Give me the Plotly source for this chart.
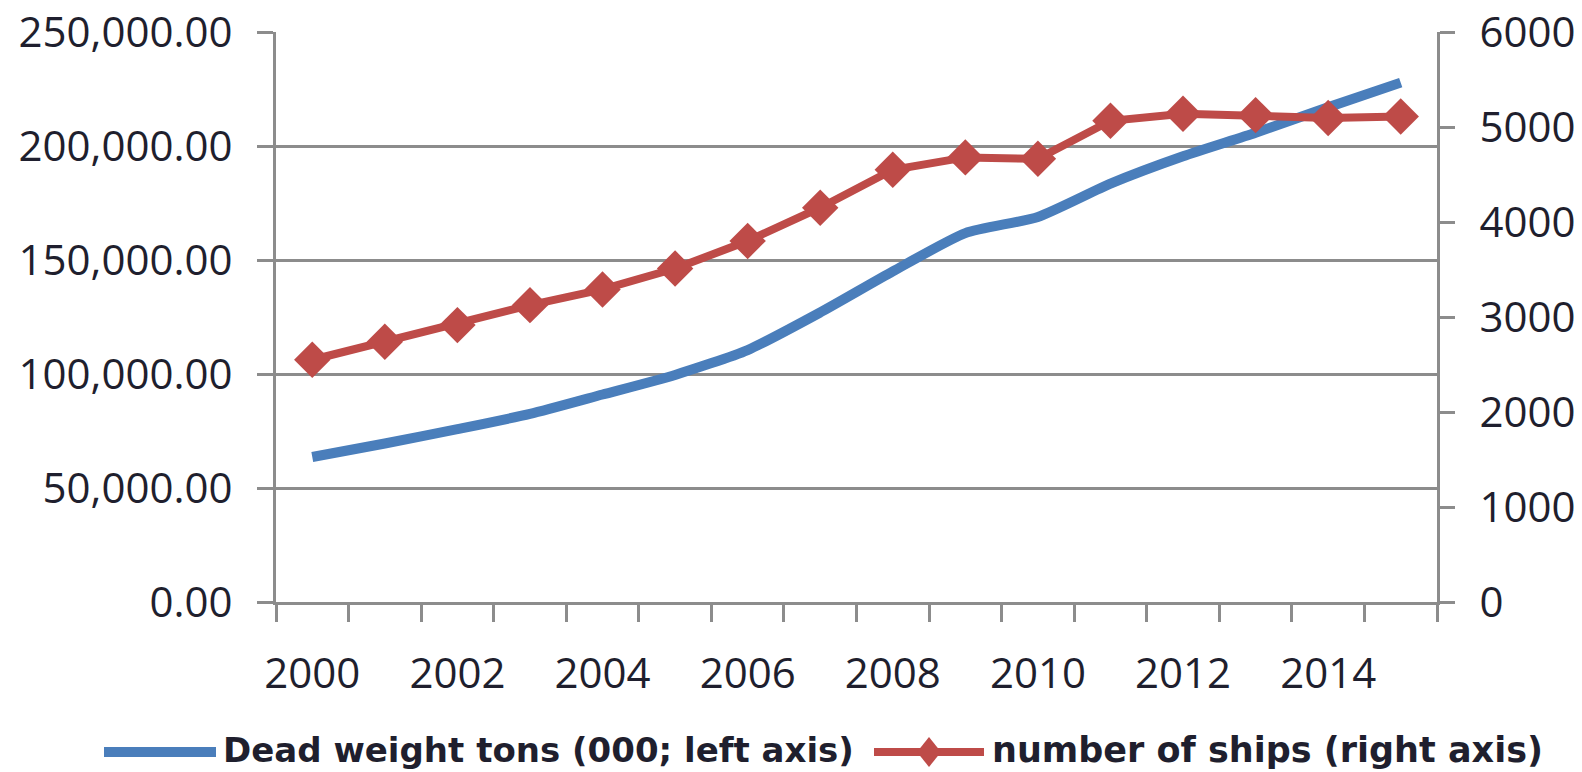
import plotly.graph_objects as go

years = list(range(2000, 2016))
dwt = [63600, 69500, 75800, 82500, 91000, 99600, 110500, 127000, 145000,
       161800, 168900, 183500, 195500, 205800, 217000, 227800]
ships = [2550, 2740, 2915, 3125, 3290, 3510, 3800, 4150, 4550,
         4680, 4665, 5065, 5140, 5125, 5095, 5110]
x_ticks = [2000, 2002, 2004, 2006, 2008, 2010, 2012, 2014]
left_ticks = [0, 50000, 100000, 150000, 200000, 250000]
right_ticks = [0, 1000, 2000, 3000, 4000, 5000, 6000]
name_dwt = "Dead weight tons (000; left axis)"
name_ships = "number of ships (right axis)"

BLUE = "#4A7EBB"
RED = "#BE4B48"
GRID = "#8C8C8C"
TXT = "#1F1F2E"
FONT = "Open Sans"
LEG_FONT = "DejaVu Sans"

W, H = 1582, 772
L, R, T, B = 276, 1437, 32, 602

fig = go.Figure()
fig.add_trace(go.Scatter(x=years, y=dwt, mode="lines", name=name_dwt,
                         line=dict(color=BLUE, width=10, shape="spline", smoothing=0.6),
                         yaxis="y"))
fig.add_trace(go.Scatter(x=years, y=ships, mode="lines+markers", name=name_ships,
                         line=dict(color=RED, width=8),
                         marker=dict(symbol="diamond", size=28, color=RED),
                         yaxis="y2"))

def px_x(p):
    return (p - L) / (R - L)

def px_y(p):
    return (B - p) / (B - T)

# custom legend (decoration), coordinates given in page pixels
ly = 752
shapes = [
    dict(type="line", xref="paper", yref="paper", x0=px_x(104), x1=px_x(216),
         y0=px_y(ly), y1=px_y(ly), line=dict(color=BLUE, width=10)),
    dict(type="line", xref="paper", yref="paper", x0=px_x(874), x1=px_x(984),
         y0=px_y(ly), y1=px_y(ly), line=dict(color=RED, width=8)),
    dict(type="path", xref="paper", yref="paper",
         path=(f"M {px_x(929)},{px_y(ly-15)} L {px_x(941)},{px_y(ly)} "
               f"L {px_x(929)},{px_y(ly+15)} L {px_x(917)},{px_y(ly)} Z"),
         fillcolor=RED, line=dict(color=RED, width=0)),
]
annotations = [
    dict(text=name_dwt, xref="paper", yref="paper", x=px_x(221), y=px_y(ly - 2),
         xanchor="left", yanchor="middle", showarrow=False,
         font=dict(family=LEG_FONT, size=34, color=TXT, weight="bold")),
    dict(text=name_ships, xref="paper", yref="paper", x=px_x(990), y=px_y(ly - 2),
         xanchor="left", yanchor="middle", showarrow=False,
         font=dict(family=LEG_FONT, size=35, color=TXT, weight="bold")),
]

fig.update_layout(
    width=W, height=H,
    margin=dict(l=L, r=W - R, t=T, b=H - B, pad=0, autoexpand=False),
    paper_bgcolor="white", plot_bgcolor="white",
    showlegend=False,
    font=dict(family=FONT, size=42, color=TXT),
    shapes=shapes, annotations=annotations,
    xaxis=dict(range=[1999.5, 2015.5], tickvals=x_ticks, ticktext=[str(v) for v in x_ticks],
               ticks="outside", ticklen=0, showgrid=False, zeroline=False,
               showline=True, linecolor=GRID, linewidth=3, automargin=False,
               ticklabelstandoff=33,
               minor=dict(ticks="outside", ticklen=17, tickwidth=3, tickcolor=GRID,
                          tick0=1999.5, dtick=1, showgrid=False)),
    yaxis=dict(range=[0, 250000], tickvals=left_ticks, tickformat=",.2f",
               ticks="outside", ticklen=16, tickwidth=3, tickcolor=GRID,
               showgrid=True, gridcolor=GRID, gridwidth=3, zeroline=False,
               showline=True, linecolor=GRID, linewidth=3, automargin=False,
               ticklabelstandoff=16),
    yaxis2=dict(range=[0, 6000], tickvals=right_ticks, overlaying="y", side="right",
                ticks="outside", ticklen=15, tickwidth=3, tickcolor=GRID,
                showgrid=False, zeroline=False, automargin=False,
                showline=True, linecolor=GRID, linewidth=3,
                ticklabelstandoff=16),
)

fig.write_html(
    "out.html",
    config={"displayModeBar": False},
    post_script="document.body.style.margin='0';document.body.style.overflow='hidden';",
)
